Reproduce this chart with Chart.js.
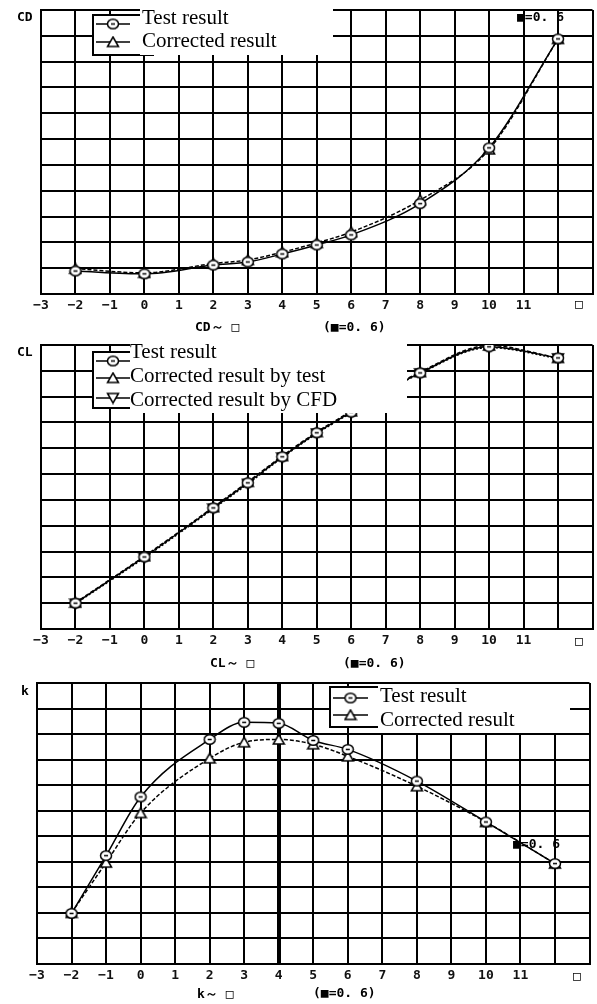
<!DOCTYPE html>
<html><head><meta charset="utf-8">
<script src="https://cdn.jsdelivr.net/npm/chart.js@4.4.1/dist/chart.umd.min.js"></script>
<style>
html,body{margin:0;padding:0;background:#fff;width:597px;height:1004px;overflow:hidden}
canvas{position:absolute;left:0}
</style></head><body>
<canvas id="c1" width="600" height="334" style="top:0px"></canvas>
<canvas id="c2" width="600" height="335" style="top:334px"></canvas>
<canvas id="c3" width="597" height="335" style="top:669px"></canvas>
<script>
// ---- data (y in grid units, axis 0..11) ----
const xTickLabels = ['−3','−2','−1','0','1','2','3','4','5','6','7','8','9','10','11'];

const cdX        = [-2, 0, 2, 3, 4, 5, 6, 8, 10, 12];
const cdTest     = [0.89, 0.78, 1.12, 1.24, 1.55, 1.90, 2.29, 3.50, 5.66, 9.88];
const cdCorr     = [0.98, 0.82, 1.18, 1.32, 1.62, 1.98, 2.40, 3.64, 5.60, 9.88];

const clX        = [-2, 0, 2, 3, 4, 5, 6, 8, 10, 12];
const clTest     = [1.00, 2.79, 4.69, 5.66, 6.67, 7.60, 8.40, 9.92, 10.93, 10.50];
const clCorrTest = [1.02, 2.82, 4.72, 5.70, 6.70, 7.63, 8.43, 9.95, 10.98, 10.50];
const clCorrCFD  = [0.98, 2.76, 4.66, 5.62, 6.64, 7.57, 8.37, 9.90, 10.90, 10.48];

const kX         = [-2, -1, 0, 2, 3, 4, 5, 6, 8, 10, 12];
const kTest      = [1.98, 4.24, 6.54, 8.79, 9.46, 9.42, 8.75, 8.40, 7.16, 5.56, 3.93];
const kCorr      = [2.00, 3.97, 5.91, 8.05, 8.68, 8.79, 8.60, 8.13, 6.96, 5.56, 3.93];

// ---- marker images ----
function mk(draw){const c=document.createElement('canvas');c.width=14;c.height=13;const g=c.getContext('2d');g.strokeStyle='#000';g.fillStyle='#fff';g.lineWidth=1.5;draw(g);return c;}
const mCircle = mk(g=>{g.beginPath();g.ellipse(7,6.5,5.5,4.8,0,0,Math.PI*2);g.fill();g.stroke();g.beginPath();g.moveTo(5,6.5);g.lineTo(9,6.5);g.stroke();});
const mTri    = mk(g=>{g.beginPath();g.moveTo(7,1.5);g.lineTo(12.5,11);g.lineTo(1.5,11);g.closePath();g.fill();g.stroke();});
const mTriDn  = mk(g=>{g.beginPath();g.moveTo(7,11.5);g.lineTo(12.5,2);g.lineTo(1.5,2);g.closePath();g.fill();g.stroke();});

const MONO = '"DejaVu Sans Mono", monospace';
const SERIF = '"Liberation Serif", "Times New Roman", serif';

function pts(xs, ys){ return xs.map((x,i)=>({x, y: ys[i]})); }
function ds(label, xs, ys, img, dash){
  return {label, data: pts(xs,ys), borderColor:'#000', borderWidth:1.5, borderDash: dash||[],
    pointStyle: img, pointRadius:6, tension:0.35, cubicInterpolationMode:'monotone', fill:false};
}

function txt(g, s, x, y, font, align){ g.font=font; g.fillStyle='#000'; g.textAlign=align||'left'; g.textBaseline='middle'; g.fillText(s,x,y); }

function overlay(top, fn){
  return {id:'ov'+top, afterDraw(chart){ const g=chart.ctx; g.save(); g.translate(0,-top); fn(g, chart); g.restore(); }};
}

function legendRow(g, x0, x1, y, img){
  g.strokeStyle='#000'; g.lineWidth=1.5; g.beginPath(); g.moveTo(x0,y); g.lineTo(x1,y); g.stroke();
  g.drawImage(img, (x0+x1)/2-7, y-6.5);
}

function makeChart(id, top, pad, datasets, thickAt, ovFn){
  return new Chart(document.getElementById(id), {
    type:'line',
    data:{datasets},
    options:{
      responsive:false, animation:false, devicePixelRatio:1,
      layout:{padding:pad},
      plugins:{legend:{display:false}, tooltip:{enabled:false}},
      scales:{
        x:{type:'linear', min:-3, max:13,
           afterFit(s){ s.height = 40; s.paddingLeft = 0; s.paddingRight = 0; },
           ticks:{stepSize:1, padding:4, color:'#111', font:{family:'DejaVu Sans Mono', size:13, weight:'bold'},
                  maxRotation:0, autoSkip:false,
                  callback:(v)=> (v>=-3 && v<=11) ? xTickLabels[v+3] : ''},
           grid:{color:'#000', lineWidth:(c)=> (thickAt!==null && c.tick && c.tick.value===thickAt) ? 4 : 2, drawTicks:false},
           border:{color:'#000', width:2}},
        y:{min:0, max:11,
           afterFit(s){ s.width = 0; s.paddingTop = 0; s.paddingBottom = 0; },
           ticks:{stepSize:1, display:false},
           grid:{color:'#000', lineWidth:2, drawTicks:false},
           border:{color:'#000', width:2}}
      }
    },
    plugins:[overlay(top, ovFn)]
  });
}

// ---- panel 1: CD ----
makeChart('c1', 0, {left:41, right:2, top:10, bottom:0}, [
  ds('Test result', cdX, cdTest, mCircle),
  ds('Corrected result', cdX, cdCorr, mTri, [4,2])
], null, (g)=>{
  g.fillStyle='#fff'; g.fillRect(93,15,60,40);
  g.strokeStyle='#000'; g.lineWidth=2; g.strokeRect(93,15,60,40);
  legendRow(g, 96, 130, 24, mCircle);
  legendRow(g, 96, 130, 42, mTri);
  g.fillStyle='#fff'; g.fillRect(140,0,193,55);
  txt(g,'Test result',142,18,'21px '+SERIF);
  txt(g,'Corrected result',142,41,'21px '+SERIF);
  txt(g,'CD',17,18,'bold 13px '+MONO);
  txt(g,'■=0. 6',517,18,'bold 13px '+MONO);
  txt(g,'□',579,305,'bold 13px '+MONO,'center');
  txt(g,'CD～ □',195,328,'bold 13px '+MONO);
  txt(g,'(■=0. 6)',323,328,'bold 13px '+MONO);
});

// ---- panel 2: CL ----
makeChart('c2', 334, {left:41, right:2, top:11, bottom:0}, [
  ds('Test result', clX, clTest, mCircle),
  ds('Corrected result by test', clX, clCorrTest, mTri, [4,2]),
  ds('Corrected result by CFD', clX, clCorrCFD, mTriDn, [2,2])
], null, (g)=>{
  g.fillStyle='#fff'; g.fillRect(93,352,50,56);
  g.strokeStyle='#000'; g.lineWidth=2; g.strokeRect(93,352,50,56);
  legendRow(g, 96, 130, 361, mCircle);
  legendRow(g, 96, 130, 378, mTri);
  legendRow(g, 96, 130, 398, mTriDn);
  g.fillStyle='#fff'; g.fillRect(130,338,277,75);
  txt(g,'Test result',130,352,'21px '+SERIF);
  txt(g,'Corrected result by test',130,376,'21px '+SERIF);
  txt(g,'Corrected result by CFD',130,400,'21px '+SERIF);
  txt(g,'CL',17,353,'bold 13px '+MONO);
  txt(g,'□',579,642,'bold 13px '+MONO,'center');
  txt(g,'CL～ □',210,664,'bold 13px '+MONO);
  txt(g,'(■=0. 6)',343,664,'bold 13px '+MONO);
});

// ---- panel 3: k ----
makeChart('c3', 669, {left:37, right:5, top:14, bottom:0}, [
  ds('Test result', kX, kTest, mCircle),
  ds('Corrected result', kX, kCorr, mTri, [4,2])
], 4, (g)=>{
  g.fillStyle='#fff'; g.fillRect(330,687,55,40);
  g.strokeStyle='#000'; g.lineWidth=2; g.strokeRect(330,687,55,40);
  legendRow(g, 333, 368, 698, mCircle);
  legendRow(g, 333, 368, 715, mTri);
  g.fillStyle='#fff'; g.fillRect(378,684,192,49);
  txt(g,'Test result',380,696,'21px '+SERIF);
  txt(g,'Corrected result',380,720,'21px '+SERIF);
  txt(g,'k',21,692,'bold 13px '+MONO);
  txt(g,'■=0. 6',513,845,'bold 13px '+MONO);
  txt(g,'□',577,977,'bold 13px '+MONO,'center');
  txt(g,'k～ □',197,995,'bold 13px '+MONO);
  txt(g,'(■=0. 6)',313,994,'bold 13px '+MONO);
});
</script>
</body></html>
